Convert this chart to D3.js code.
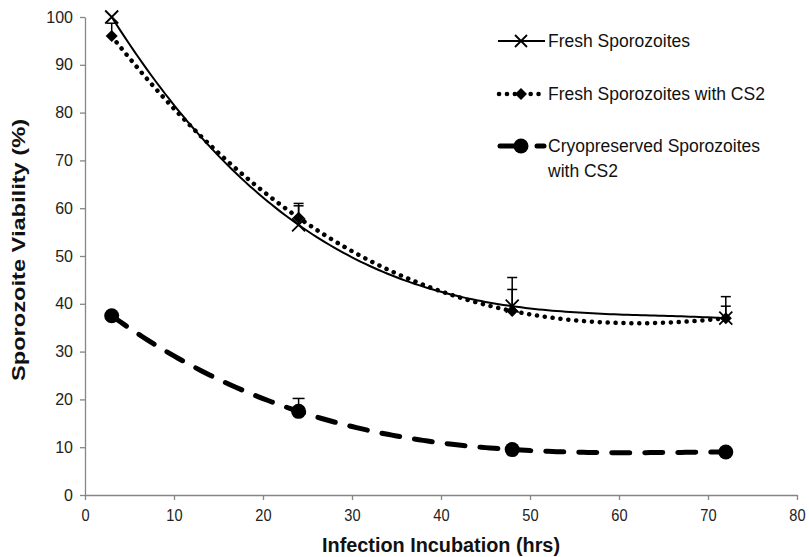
<!DOCTYPE html>
<html><head><meta charset="utf-8">
<script src="https://cdn.jsdelivr.net/npm/d3@7"></script>
<style>body{margin:0;background:#fff}svg{display:block}</style>
</head><body><svg id="c" width="809" height="557"></svg>
<script>
const hours = [3, 24, 48, 72];
const fresh = [100, 56.5, 39.5, 37];
const freshErr = [0, 4.5, 6, 4.5];
const freshCS2 = [96, 58, 38.5, 37];
const freshCS2Err = [2.7, 2.5, 4.5, 2.5];
const cryoCS2 = [37.5, 17.5, 9.5, 9];
const cryoCS2Err = [0, 2.7, 0, 0];
const xTicks = [0, 10, 20, 30, 40, 50, 60, 70, 80];
const yTicks = [0, 10, 20, 30, 40, 50, 60, 70, 80, 90, 100];
const seriesNames = ["Fresh Sporozoites", "Fresh Sporozoites with CS2", "Cryopreserved Sporozoites|with CS2"];

const svg = d3.select("#c");
const x = d3.scaleLinear().domain([0, 80]).range([85, 797]);
const y = d3.scaleLinear().domain([0, 100]).range([495, 17]);
const axisColor = "#868686";
const sans = "'Liberation Sans',Arial,sans-serif";

// axes
const gx = svg.append("g").attr("transform", "translate(0,495)")
  .call(d3.axisBottom(x).tickValues(xTicks).tickSize(5).tickSizeOuter(0));
gx.select(".domain").attr("stroke", axisColor).attr("stroke-width", 1.3);
gx.selectAll(".tick line").attr("stroke", axisColor).attr("stroke-width", 1.3);
gx.selectAll(".tick text").attr("font-family", sans)
  .attr("font-size", 17).attr("fill", "#222").attr("y", 10).attr("dy", "0.95em")
  .attr("transform", "scale(0.86,1)");

const gy = svg.append("g").attr("transform", "translate(85,0)")
  .call(d3.axisLeft(y).tickValues(yTicks).tickSize(5).tickSizeOuter(0));
gy.select(".domain").attr("stroke", axisColor).attr("stroke-width", 1.3);
gy.selectAll(".tick line").attr("stroke", axisColor).attr("stroke-width", 1.3);
gy.selectAll(".tick text").attr("font-family", sans)
  .attr("font-size", 16).attr("fill", "#222").attr("x", -12);

svg.append("text").attr("x", 441).attr("y", 552).attr("text-anchor", "middle")
  .attr("font-family", sans)
  .attr("font-weight", "bold").attr("font-size", 20).attr("fill", "#111")
  .attr("textLength", 238).attr("lengthAdjust", "spacingAndGlyphs")
  .text("Infection Incubation (hrs)");
svg.append("text").attr("transform", "translate(25,250) rotate(-90)").attr("text-anchor", "middle")
  .attr("font-family", sans)
  .attr("font-weight", "bold").attr("font-size", 19).attr("fill", "#111")
  .attr("textLength", 262).attr("lengthAdjust", "spacingAndGlyphs")
  .text("Sporozoite Viability (%)");

// cubic polynomial trendline through the data (Lagrange form)
function trend(xs, ys) {
  return t => {
    let s = 0;
    for (let i = 0; i < xs.length; i++) {
      let p = ys[i];
      for (let j = 0; j < xs.length; j++) if (j !== i) p *= (t - xs[j]) / (xs[i] - xs[j]);
      s += p;
    }
    return s;
  };
}
const samples = d3.range(hours[0], hours[hours.length - 1] + 0.001, 0.5);
const line = d3.line().x(d => x(d[0])).y(d => y(d[1]));

function drawTrend(vals, style) {
  const f = trend(hours, vals);
  const pts = samples.map(t => [t, f(t)]);
  const p = svg.append("path").attr("d", line(pts)).attr("fill", "none").attr("stroke", "#000");
  style(p);
}
drawTrend(fresh, p => p.attr("stroke-width", 2));
drawTrend(freshCS2, p => p.attr("stroke-width", 4.5).attr("stroke-dasharray", "0.1 7.8").attr("stroke-linecap", "round"));
drawTrend(cryoCS2, p => p.attr("stroke-width", 5).attr("stroke-dasharray", "18 15").attr("stroke-linecap", "round"));

// error bars (plus direction)
function errBars(vals, errs, w) {
  hours.forEach((h, i) => {
    if (!errs[i]) return;
    const g = svg.append("g").attr("stroke", "#000").attr("stroke-width", 1.5);
    g.append("line").attr("x1", x(h)).attr("x2", x(h)).attr("y1", y(vals[i])).attr("y2", y(vals[i] + errs[i]));
    g.append("line").attr("x1", x(h) - w).attr("x2", x(h) + w).attr("y1", y(vals[i] + errs[i])).attr("y2", y(vals[i] + errs[i]));
  });
}
errBars(fresh, freshErr, 5);
errBars(freshCS2, freshCS2Err, 5);
errBars(cryoCS2, cryoCS2Err, 6);

// markers
function xMark(g, cx, cy, s) {
  g.append("path").attr("d", `M${cx - s},${cy - s}L${cx + s},${cy + s}M${cx - s},${cy + s}L${cx + s},${cy - s}`)
    .attr("stroke", "#000").attr("stroke-width", 1.8).attr("fill", "none");
}
function diamond(g, cx, cy, s) {
  g.append("path").attr("d", `M${cx},${cy - s}L${cx + s},${cy}L${cx},${cy + s}L${cx - s},${cy}Z`).attr("fill", "#000");
}
function circ(g, cx, cy, r) {
  g.append("circle").attr("cx", cx).attr("cy", cy).attr("r", r).attr("fill", "#000");
}
const mg = svg.append("g");
hours.forEach((h, i) => xMark(mg, x(h), y(fresh[i]), 6.5));
hours.forEach((h, i) => diamond(mg, x(h), y(freshCS2[i]), 6));
hours.forEach((h, i) => circ(mg, x(h), y(cryoCS2[i]), 7.5));

// legend
const lg = svg.append("g");
const lx0 = 498, lx1 = 545, lmid = 521;
const rows = [41, 94, 146];
lg.append("line").attr("x1", lx0).attr("x2", lx1).attr("y1", rows[0]).attr("y2", rows[0]).attr("stroke", "#000").attr("stroke-width", 2);
xMark(lg, lmid, rows[0], 6);
lg.append("line").attr("x1", lx0 + 1).attr("x2", lx1).attr("y1", rows[1]).attr("y2", rows[1]).attr("stroke", "#000")
  .attr("stroke-width", 4.5).attr("stroke-dasharray", "0.1 7.8").attr("stroke-linecap", "round");
diamond(lg, lmid, rows[1], 6);
lg.append("line").attr("x1", lx0 + 2).attr("x2", lmid).attr("y1", rows[2]).attr("y2", rows[2]).attr("stroke", "#000").attr("stroke-width", 5).attr("stroke-linecap", "round");
lg.append("line").attr("x1", 537).attr("x2", 544).attr("y1", rows[2]).attr("y2", rows[2]).attr("stroke", "#000").attr("stroke-width", 5).attr("stroke-linecap", "round");
circ(lg, lmid, rows[2], 7.5);
seriesNames.forEach((n, i) => {
  const t = lg.append("text").attr("x", 548).attr("y", rows[i] + 6)
    .attr("font-family", sans).attr("font-size", 17.5).attr("fill", "#111");
  n.split("|").forEach((part, k) => t.append("tspan").attr("x", 548).attr("dy", k ? 25 : 0).text(part));
});
</script></body></html>
